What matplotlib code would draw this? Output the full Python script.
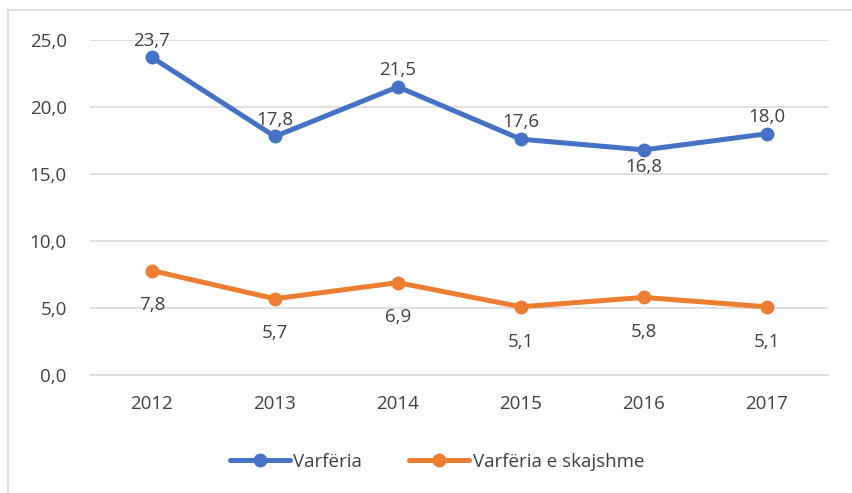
import matplotlib.pyplot as plt
import matplotlib.patches as mpatches

years = ["2012", "2013", "2014", "2015", "2016", "2017"]
varferia = [23.7, 17.8, 21.5, 17.6, 16.8, 18.0]
skajshme = [7.8, 5.7, 6.9, 5.1, 5.8, 5.1]
y_ticks = [0, 5, 10, 15, 20, 25]

blue = "#4472C4"
orange = "#ED7D31"
text_col = "#404040"

plt.rcParams["font.family"] = ["Open Sans", "DejaVu Sans"]

fig = plt.figure(figsize=(8.53, 4.93), dpi=100)
ax = fig.add_axes([0.106, 0.239, 0.865, 0.68])

# chart frame
fig.patches.append(mpatches.Rectangle((8 / 853, -0.01), 1.0, 1 - 10 / 493 + 0.01,
                                      transform=fig.transFigure, fill=False,
                                      edgecolor="#D9D9D9", linewidth=1.2))

x = list(range(len(years)))
ax.plot(x, varferia, color=blue, lw=3.6, marker="o", ms=9, label="Varfëria",
        solid_capstyle="round", zorder=3)
ax.plot(x, skajshme, color=orange, lw=3.6, marker="o", ms=9, label="Varfëria e skajshme",
        solid_capstyle="round", zorder=3)

def fmt(v):
    return f"{v:.1f}".replace(".", ",")

for i, v in enumerate(varferia):
    if i == 4:
        ax.annotate(fmt(v), (i, v), xytext=(0, -12), textcoords="offset points",
                    ha="center", va="center", fontsize=13.5, color=text_col)
    else:
        ax.annotate(fmt(v), (i, v), xytext=(0, 12), textcoords="offset points",
                    ha="center", va="center", fontsize=13.5, color=text_col)
for i, v in enumerate(skajshme):
    ax.annotate(fmt(v), (i, v), xytext=(0, -25), textcoords="offset points",
                ha="center", va="center", fontsize=13.5, color=text_col)

ax.set_xlim(-0.5, len(years) - 0.5)
ax.set_ylim(0, 25)
ax.set_xticks(x)
ax.set_xticklabels(years)
ax.set_yticks(y_ticks)
ax.set_yticklabels([fmt(t) for t in y_ticks])
ax.tick_params(axis="both", length=0, labelsize=13.5, labelcolor=text_col)
ax.tick_params(axis="x", pad=14)
ax.tick_params(axis="y", pad=17)

ax.grid(axis="y", color="#D9D9D9", linewidth=1.2)
ax.set_axisbelow(True)
for s in ["top", "right", "left"]:
    ax.spines[s].set_visible(False)
ax.spines["bottom"].set_color("#D9D9D9")
ax.spines["bottom"].set_linewidth(1.2)

fig.legend(loc="center", bbox_to_anchor=(437 / 853, 1 - 462 / 493), ncol=2,
           frameon=False, fontsize=13.5, labelcolor=text_col, handlelength=3.2,
           columnspacing=2.5, handletextpad=0.2)

fig.savefig("out.png", dpi=100)
